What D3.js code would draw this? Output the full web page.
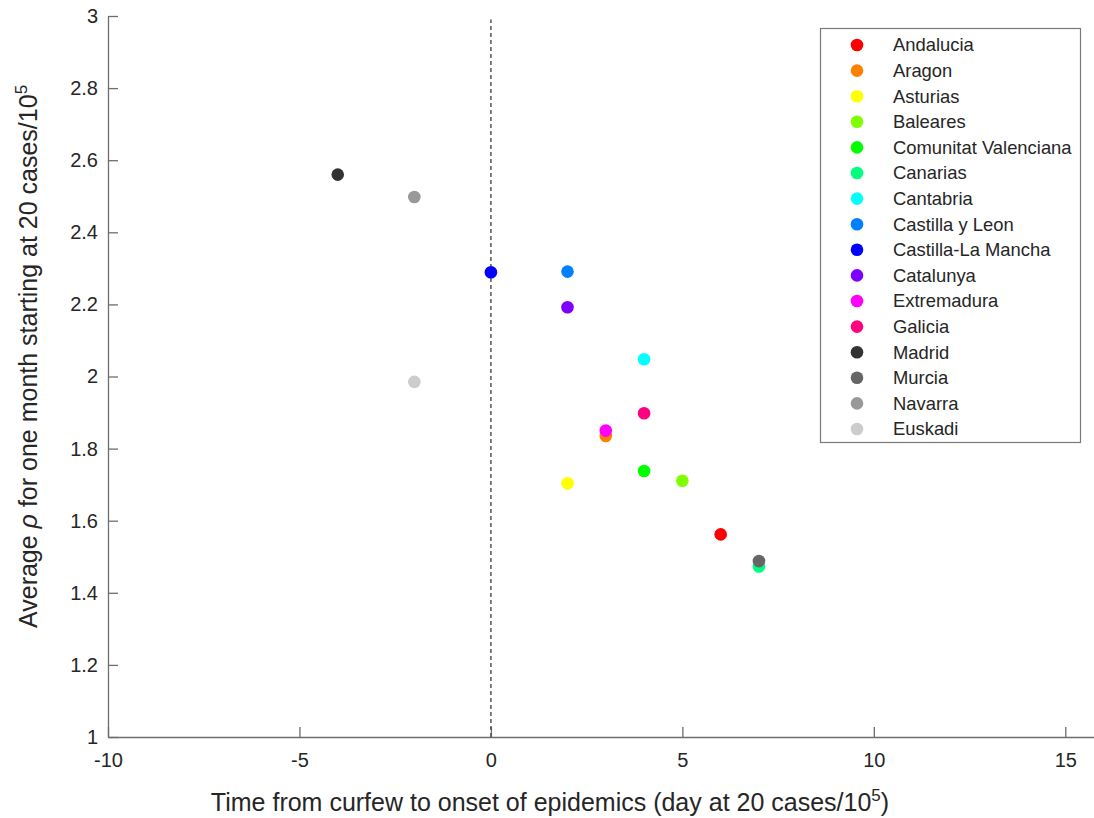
<!DOCTYPE html>
<html>
<head>
<meta charset="utf-8">
<script src="https://cdn.jsdelivr.net/npm/d3@7"></script>
<style>
  body { margin: 0; background: #fff; }
  text { font-family: "Liberation Sans", Arial, sans-serif; fill: #262626; }
</style>
</head>
<body>
<div id="chart"></div>
<script>
// regions, in legend order
let regions = ["Andalucia", "Aragon", "Asturias", "Baleares", "Comunitat Valenciana", "Canarias",
    "Cantabria", "Castilla y Leon", "Castilla-La Mancha", "Catalunya", "Extremadura", "Galicia",
    "Madrid", "Murcia", "Navarra", "Euskadi"];
// time from curfew to onset (days)
let delay = [6, 3, 2, 5, 4, 7, 4, 2, 0, 2, 3, 4, -4, 7, -2, -2];
// average rho for one month
let rho = [1.562, 1.835, 1.704, 1.711, 1.738, 1.473, 2.048, 2.291, 2.289, 2.192, 1.850, 1.898, 2.560, 1.488, 2.498, 1.985];
let colors = ["#ff0000", "#ff8000", "#ffff00", "#80ff00", "#00ff00", "#00ff80", "#00ffff", "#0080ff",
    "#0000ff", "#8000ff", "#ff00ff", "#ff0080", "#333333", "#666666", "#999999", "#cccccc"];

let xTicks = [-10, -5, 0, 5, 10, 15];
let yTicks = [1, 1.2, 1.4, 1.6, 1.8, 2, 2.2, 2.4, 2.6, 2.8, 3];

const width = 1094, height = 818;
const margin = {left: 108, bottom: 737, top: 16, right: 1094};

let svg = d3.select("#chart")
    .append("svg")
    .attr("width", width)
    .attr("height", height);

let x = d3.scaleLinear().domain([-10, 15.75]).range([margin.left, margin.right]);
let y = d3.scaleLinear().domain([1, 3]).range([margin.bottom, margin.top]);

// axes (ticks point inward like matlab)
let xAxis = svg.append("g")
    .attr("transform", `translate(0, ${margin.bottom})`)
    .call(d3.axisTop(x).tickValues(xTicks).tickSize(10).tickSizeOuter(0).tickFormat(d => String(d)));
xAxis.selectAll("text")
    .attr("y", 23)
    .attr("dy", "0.35em")
    .style("font-size", "20px");

let yAxis = svg.append("g")
    .attr("transform", `translate(${margin.left}, 0)`)
    .call(d3.axisRight(y).tickValues(yTicks).tickSize(10).tickSizeOuter(0).tickFormat(d => String(+d.toFixed(1))));
yAxis.selectAll("text")
    .attr("x", -10)
    .style("text-anchor", "end")
    .style("font-size", "20px");

svg.selectAll(".domain, .tick line").attr("stroke", "#6e6e6e").attr("stroke-width", 1.3);
svg.selectAll(".tick text").attr("fill", "#262626").attr("font-family", "Liberation Sans, Arial, sans-serif");

// dashed line at x = 0
svg.append("line")
    .attr("x1", x(0)).attr("x2", x(0))
    .attr("y1", y(1)).attr("y2", y(2.99))
    .attr("stroke", "#555")
    .attr("stroke-width", 1.5)
    .attr("stroke-dasharray", "4,3");

// points
svg.append("g").selectAll("circle")
    .data(regions)
    .enter()
    .append("circle")
    .attr("cx", (d, i) => x(delay[i]))
    .attr("cy", (d, i) => y(rho[i]))
    .attr("r", 6.3)
    .attr("fill", (d, i) => colors[i]);

// axis labels
let xl = svg.append("text")
    .attr("x", 550)
    .attr("y", 811)
    .style("text-anchor", "middle")
    .style("font-size", "25px");
xl.append("tspan").text("Time from curfew to onset of epidemics (day at 20 cases/10");
xl.append("tspan").attr("dy", -10).style("font-size", "17px").text("5");
xl.append("tspan").attr("dy", 10).text(")");

let yl = svg.append("text")
    .attr("transform", "translate(37, 628) rotate(-90)")
    .style("text-anchor", "start")
    .style("font-size", "25px");
yl.append("tspan").text("Average ");
yl.append("tspan").style("font-style", "italic").text("ρ");
yl.append("tspan").text(" for one month starting at 20 cases/10");
yl.append("tspan").attr("dy", -10).style("font-size", "17px").text("5");

// legend
let legend = svg.append("g");
legend.append("rect")
    .attr("x", 820.5).attr("y", 28.5)
    .attr("width", 260).attr("height", 414)
    .attr("fill", "#fff")
    .attr("stroke", "#7a7a7a")
    .attr("stroke-width", 1.2);

let rowY = d3.scaleLinear().domain([0, regions.length - 1]).range([45, 429]);
let items = legend.selectAll(".item")
    .data(regions)
    .enter()
    .append("g")
    .attr("transform", (d, i) => `translate(0, ${rowY(i)})`);
items.append("circle")
    .attr("cx", 857)
    .attr("r", 6.3)
    .attr("fill", (d, i) => colors[i]);
items.append("text")
    .attr("x", 893)
    .attr("dy", "0.35em")
    .style("font-size", "18.4px")
    .text(d => d);
</script>
</body>
</html>
